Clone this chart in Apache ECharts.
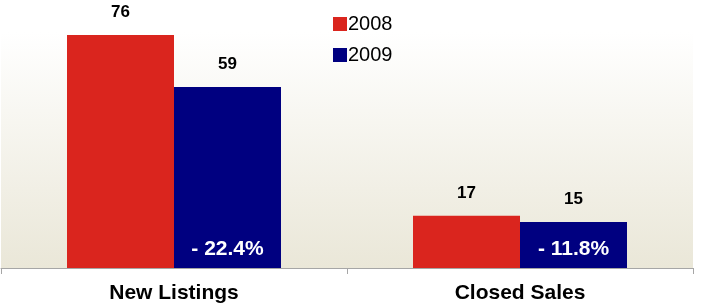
<!DOCTYPE html>
<html>
<head>
<meta charset="utf-8">
<script src="https://cdn.jsdelivr.net/npm/echarts@6/dist/echarts.min.js"></script>
<style>
html,body{margin:0;padding:0;background:#fff;}
#chart{width:701px;height:308px;}
</style>
</head>
<body>
<div id="chart"></div>
<script>
var categories = ['New Listings', 'Closed Sales'];
var values2008 = [76, 17];
var values2009 = [59, 15];
var changeLabels = ['- 22.4%', '- 11.8%'];
var seriesNames = ['2008', '2009'];

var FONT = '"Liberation Sans", Arial, sans-serif';
var chart = echarts.init(document.getElementById('chart'), null, {renderer: 'canvas'});

var xBase = {
  type: 'category',
  data: categories,
  boundaryGap: true
};

chart.setOption({
  animation: false,
  backgroundColor: '#ffffff',
  textStyle: {fontFamily: FONT},
  legend: {
    orient: 'vertical',
    left: 328,
    top: 9,
    itemWidth: 14,
    itemHeight: 14,
    itemGap: 11,
    icon: 'rect',
    data: seriesNames,
    textStyle: {fontFamily: FONT, fontSize: 20, color: '#000', padding: [0, 0, 0, -4]}
  },
  grid: {
    left: 1, right: 8, top: 0, bottom: 40,
    show: true,
    borderWidth: 0,
    backgroundColor: {
      type: 'linear', x: 0, y: 0, x2: 0, y2: 1,
      colorStops: [
        {offset: 0, color: '#ffffff'},
        {offset: 0.12, color: '#ffffff'},
        {offset: 1, color: '#eae7d8'}
      ]
    }
  },
  xAxis: [
    Object.assign({}, xBase, {
      axisLine: {show: true, lineStyle: {color: '#a6a6a6', width: 1}},
      axisTick: {show: true, length: 6, lineStyle: {color: '#a6a6a6'}},
      axisLabel: {
        margin: 15, fontFamily: FONT, fontSize: 21, fontWeight: 'bold', color: '#000'
      }
    }),
    Object.assign({}, xBase, {
      show: false
    })
  ],
  yAxis: {
    type: 'value', min: 0, max: 87.4, show: false,
    splitLine: {show: false}
  },
  series: [
    {
      name: seriesNames[0], type: 'bar', data: values2008,
      barWidth: 107, barGap: '0%',
      itemStyle: {color: '#da251e'},
      label: {show: true, position: 'top', distance: 14,
        fontFamily: FONT, fontSize: 17, fontWeight: 'bold', color: '#000'}
    },
    {
      name: seriesNames[1], type: 'bar', data: values2009,
      barWidth: 107, barGap: '0%',
      itemStyle: {color: '#000080'},
      label: {show: true, position: 'top', distance: 14,
        fontFamily: FONT, fontSize: 17, fontWeight: 'bold', color: '#000'}
    },
    {
      name: 'pad', type: 'bar', xAxisIndex: 1, data: values2008,
      barWidth: 107, barGap: '0%', silent: true,
      itemStyle: {color: 'rgba(0,0,0,0)'}
    },
    {
      name: 'change', type: 'bar', xAxisIndex: 1, data: values2009,
      barWidth: 107, barGap: '0%', silent: true, z: 5,
      itemStyle: {color: 'rgba(0,0,0,0)'},
      label: {
        show: true, position: 'insideBottom', distance: 8,
        fontFamily: FONT, fontSize: 21, fontWeight: 'bold', color: '#ffffff',
        formatter: function (p) { return changeLabels[p.dataIndex]; }
      }
    }
  ]
});
</script>
</body>
</html>
